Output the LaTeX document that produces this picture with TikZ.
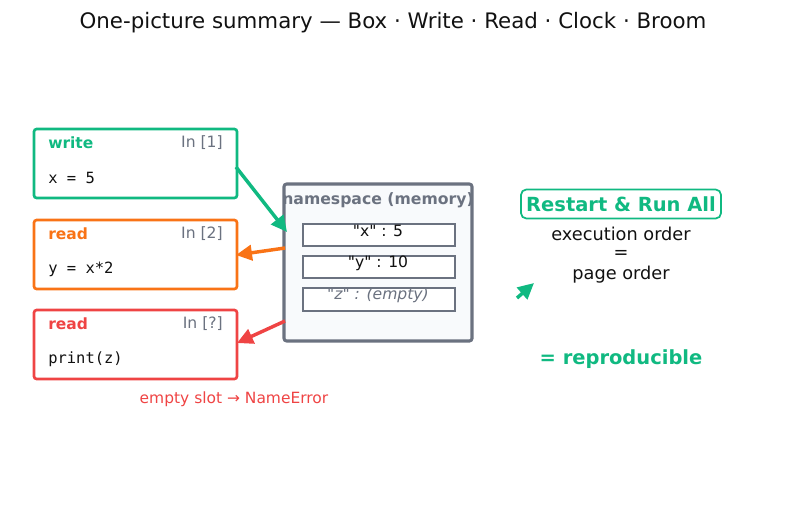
\documentclass[tikz,border=0pt]{standalone}
\usepackage{fontspec}
\setmainfont{DejaVu Sans}
\setmonofont{DejaVu Sans Mono}
\newfontfamily\qfont{DejaVu Sans}
\usetikzlibrary{arrows.meta}
\definecolor{cgreen}{HTML}{10B981}
\definecolor{corange}{HTML}{F97316}
\definecolor{cred}{HTML}{EF4444}
\definecolor{cgray}{HTML}{6B7280}
\definecolor{cdark}{HTML}{111111}
\definecolor{nsfill}{HTML}{F8FAFC}
\tikzset{
  cell/.style={draw, line width=2pt, rounded corners=2pt, fill=white},
  tag/.style={font=\bfseries\fontsize{11.6}{14}\selectfont, anchor=west, inner sep=0pt},
  incount/.style={font=\fontsize{11.7}{14}\selectfont, text=cgray, anchor=east, inner sep=0pt},
  code/.style={font=\ttfamily\fontsize{11.6}{14}\selectfont, text=cdark, anchor=west, inner sep=0pt},
  slot/.style={draw=cgray, line width=1.2pt, fill=white},
  slottext/.style={font=\qfont\fontsize{11.7}{14}\selectfont, inner sep=0pt},
  conn/.style={line width=2.6pt, -{Stealth[length=12pt,width=11.5pt,inset=0pt]}},
  plain/.style={font=\fontsize{13.3}{16}\selectfont, text=cdark, inner sep=0pt},
}
\begin{document}
\begin{tikzpicture}[x=0.75pt,y=-0.75pt]
\useasboundingbox (0,0) rectangle (787,508);
% title
\node[font=\fontsize{16}{19}\selectfont, text=cdark, inner sep=0pt] (title) at (393,23) {One-picture summary — Box · Write · Read · Clock · Broom};

% cells
\draw[cell, draw=cgreen] (34,129) rectangle (237,198);
\node[tag, text=cgreen] (w1) at (48,143) {write};
\node[incount] (i1) at (223,143) {In [1]};
\node[code] (c1) at (48,178) {x = 5};

\draw[cell, draw=corange] (34,220) rectangle (237,289);
\node[tag, text=corange] (w2) at (48,234) {read};
\node[incount] (i2) at (223,234) {In [2]};
\node[code] (c2) at (48,269) {y = x*2};

\draw[cell, draw=cred] (34,310) rectangle (237,379);
\node[tag, text=cred] (w3) at (48,324) {read};
\node[incount] (i3) at (223,324) {In [?]};
\node[code] (c3) at (48,359) {print(z)};

\node[font=\fontsize{11.6}{14}\selectfont, text=cred, inner sep=0pt] (err) at (234,399) {empty slot → NameError};

% namespace
\draw[draw=cgray, line width=2.3pt, fill=nsfill, rounded corners=2pt] (284,184) rectangle (472,341);
\node[font=\bfseries\fontsize{11.75}{14}\selectfont, text=cgray, inner sep=0pt] (ns) at (378,200) {namespace (memory)};
\draw[slot] (303,224) rectangle (455,246);
\draw[slot] (303,256) rectangle (455,278);
\draw[slot] (303,288) rectangle (455,311);
\node[slottext, text=cdark] (sx) at (378,231) {"x" : 5};
\node[slottext, text=cdark] (sy) at (378,263) {"y" : 10};
\node[slottext, text=cgray, font=\qfont\itshape\fontsize{11.7}{14}\selectfont] (sz) at (378,295) {"z" : (empty)};

% connectors
\coordinate (a1s) at (236,167);
\coordinate (a1e) at (287,232);
\coordinate (a2s) at (285,248);
\coordinate (a2e) at (236,255);
\coordinate (a3s) at (285,321);
\coordinate (a3e) at (237,343);
\draw[conn, draw=cgreen, fill=cgreen] (a1s) -- (a1e);
\draw[conn, draw=corange, fill=corange] (a2s) -- (a2e);
\draw[conn, draw=cred, fill=cred] (a3s) -- (a3e);

\coordinate (g1) at (517,298);
\coordinate (g2) at (534,283);
\draw[conn, draw=cgreen, fill=cgreen] (g1) -- (g2);

% right side
\node[draw=cgreen, line width=1.3pt, rounded corners=4pt, minimum width=200pt*0.75, minimum height=29pt*0.75, inner sep=0pt,
  font=\bfseries\fontsize{14.6}{17}\selectfont, text=cgreen] (rr) at (621,204) {Restart \& Run All};
\node[plain] (e1) at (621,234) {execution order};
\node[plain] (e2) at (621,254) {=};
\node[plain] (e3) at (621,275) {page order};
\node[font=\bfseries\fontsize{14.6}{17}\selectfont, text=cgreen, inner sep=0pt] (rep) at (621,359) {= reproducible};
\end{tikzpicture}
\end{document}
